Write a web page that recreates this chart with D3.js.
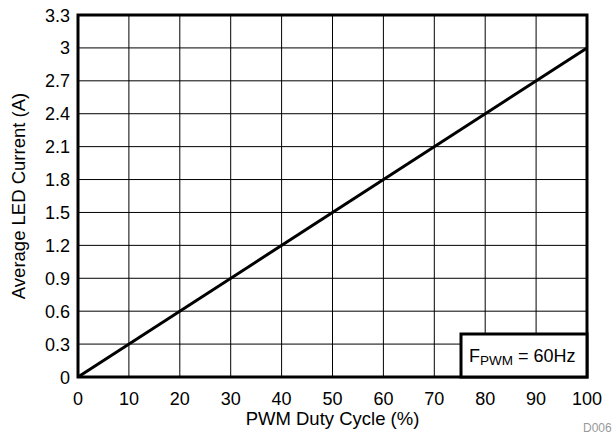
<!DOCTYPE html>
<html lang="en">
<head>
	<meta charset="UTF-8">
	<title>Average LED Current vs PWM Duty Cycle</title>
	<script src="https://cdn.jsdelivr.net/npm/d3@7"></script>
	<style>
		body { margin: 0; background: #fff; }
		text { font-family: "Liberation Sans", Arial, sans-serif; }
	</style>
</head>
<body>
<svg id="chart" width="615" height="437"></svg>
<script>

const dutyCycle = [0, 100];
const ledCurrent = [0, 3];
const xTicks = [0, 10, 20, 30, 40, 50, 60, 70, 80, 90, 100];
const yTicks = [0, 0.3, 0.6, 0.9, 1.2, 1.5, 1.8, 2.1, 2.4, 2.7, 3, 3.3];

const svg = d3.select('#chart');
const plotLeft = 78, plotRight = 587, plotTop = 15, plotBottom = 377;

const x = d3.scaleLinear().domain([0, 100]).range([plotLeft, plotRight]);
const y = d3.scaleLinear().domain([0, 3.3]).range([plotBottom, plotTop]);

// grid
svg.append('g')
	.selectAll('line')
	.data(xTicks)
	.join('line')
	.attr('x1', d => x(d)).attr('x2', d => x(d))
	.attr('y1', plotTop).attr('y2', plotBottom)
	.attr('stroke', '#000').attr('stroke-width', 1);

svg.append('g')
	.selectAll('line')
	.data(yTicks)
	.join('line')
	.attr('x1', plotLeft).attr('x2', plotRight)
	.attr('y1', d => y(d)).attr('y2', d => y(d))
	.attr('stroke', '#000').attr('stroke-width', 1);

// tick labels
svg.append('g')
	.selectAll('text')
	.data(xTicks)
	.join('text')
	.attr('x', d => x(d)).attr('y', 405)
	.attr('text-anchor', 'middle')
	.attr('font-size', 18)
	.text(d => d);

svg.append('g')
	.selectAll('text')
	.data(yTicks)
	.join('text')
	.attr('x', 70).attr('y', d => y(d) + 6.5)
	.attr('text-anchor', 'end')
	.attr('font-size', 18)
	.text(d => d3.format('~g')(d));

// data line
const line = d3.line()
	.x(d => x(d[0]))
	.y(d => y(d[1]));

svg.append('path')
	.datum(d3.zip(dutyCycle, ledCurrent))
	.attr('d', line)
	.attr('fill', 'none')
	.attr('stroke', '#000')
	.attr('stroke-width', 3);

// frame
svg.append('rect')
	.attr('x', plotLeft).attr('y', plotTop)
	.attr('width', plotRight - plotLeft).attr('height', plotBottom - plotTop)
	.attr('fill', 'none')
	.attr('stroke', '#000')
	.attr('stroke-width', 3);

// legend box
svg.append('rect')
	.attr('x', 461).attr('y', 334)
	.attr('width', plotRight - 461).attr('height', plotBottom - 334)
	.attr('fill', '#fff')
	.attr('stroke', '#000')
	.attr('stroke-width', 3);

const leg = svg.append('text')
	.attr('x', 469).attr('y', 362)
	.attr('font-size', 18);
leg.append('tspan').text('F');
leg.append('tspan').attr('font-size', 13.5).attr('dy', 3).text('PWM');
leg.append('tspan').attr('dy', -3).text(' = 60Hz');

// axis titles
svg.append('text')
	.attr('x', (plotLeft + plotRight) / 2).attr('y', 425)
	.attr('text-anchor', 'middle')
	.attr('font-size', 18.5)
	.text('PWM Duty Cycle (%)');

svg.append('text')
	.attr('transform', `translate(25, ${(plotTop + plotBottom) / 2}) rotate(-90)`)
	.attr('text-anchor', 'middle')
	.attr('font-size', 18.5)
	.text('Average LED Current (A)');

svg.append('text')
	.attr('x', 583).attr('y', 432)
	.attr('font-size', 12)
	.attr('fill', '#999')
	.text('D006');

</script>
</body>
</html>
